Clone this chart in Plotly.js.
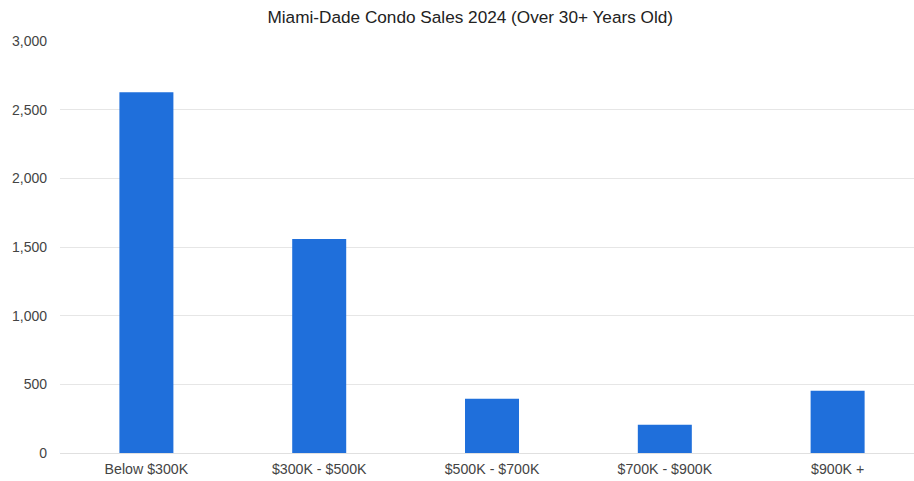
<!DOCTYPE html>
<html><head><meta charset="utf-8">
<script src="https://cdn.plot.ly/plotly-3.0.1.min.js"></script>
<style>html,body{margin:0;padding:0;background:#fff}#chart{width:914px;height:481px}</style>
</head><body><div id="chart"></div>
<script>
const categories = ["Below $300K", "$300K - $500K", "$500K - $700K", "$700K - $900K", "$900K +"];
const sales = [2626, 1558, 395, 206, 454];
const yTicks = [0, 500, 1000, 1500, 2000, 2500, 3000];
const yTickLabels = ["0", "500", "1,000", "1,500", "2,000", "2,500", "3,000"];

Plotly.newPlot('chart', [{
  type: 'bar', x: categories, y: sales, width: 0.3125,
  marker: {color: '#1f6fdb', line: {width: 0}}, hoverinfo: 'x+y'
}], {
  width: 914, height: 481,
  margin: {l: 60, r: 0, t: 41, b: 28},
  paper_bgcolor: '#fff', plot_bgcolor: '#fff',
  font: {family: 'Liberation Sans, Arial, sans-serif', size: 14, color: '#444'},
  title: {text: 'Miami-Dade Condo Sales 2024 (Over 30+ Years Old)', x: 0.5145, xanchor: 'center', y: 0.965, yanchor: 'middle', font: {size: 17.2, color: '#222'}},
  xaxis: {type: 'category', range: [-0.5, 4.442], showgrid: false, zeroline: false, showline: false, ticks: '', tickfont: {size: 14.2, color: '#444'}, ticklabelstandoff: 6},
  yaxis: {range: [0, 3000], tickvals: yTicks, ticktext: yTickLabels, showgrid: true, gridcolor: '#e6e6e6', gridwidth: 1, zeroline: true, zerolinecolor: '#e0e0e0', zerolinewidth: 1, showline: false, ticks: '', ticklabelstandoff: 12, tickfont: {size: 14, color: '#444'}},
  showlegend: false, bargap: 0.6875
}, {displayModeBar: false, staticPlot: true});
</script></body></html>
